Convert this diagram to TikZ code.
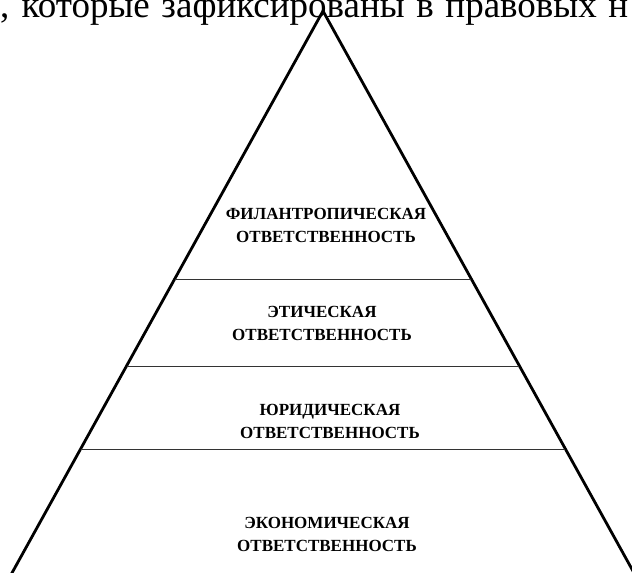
\documentclass[tikz,border=0pt]{standalone}
\usepackage{fontspec}
\setmainfont{Liberation Serif}
\usetikzlibrary{calc}
\tikzset{
  edge/.style={line width=2.8pt, line join=miter, black},
  tier/.style={line width=0.9pt, black!80},
  label/.style={align=center, inner sep=0pt, font=\bfseries\fontsize{17}{23}\selectfont},
  cut/.style={anchor=base west, inner sep=0pt, font=\fontsize{37}{37}\selectfont}
}
\begin{document}
\begin{tikzpicture}[x=1pt,y=-1pt]
\useasboundingbox (0,0) rectangle (632,573);
\clip (0,0) rectangle (632,573);
\fill[white] (0,0) rectangle (632,573);
\node[cut] (top) at (0,17) {\makebox[628pt][s]{, которые зафиксированы в правовых н}};
\coordinate (apex) at (323,11);
\coordinate (bl) at (-3,600);
\coordinate (br) at (649,600);
\draw[edge] (bl) -- (apex) -- (br);
\foreach \y/\n in {279/a,366/b,449/c}{
  \coordinate (l\n) at ($(apex)!{(\y-11)/589}!(bl)$);
  \coordinate (r\n) at ($(apex)!{(\y-11)/589}!(br)$);
  \draw[tier] (l\n) -- (r\n);
}
\node[label] (phil) at (326,225) {ФИЛАНТРОПИЧЕСКАЯ\\ОТВЕТСТВЕННОСТЬ};
\node[label] (eth) at (322,323) {ЭТИЧЕСКАЯ\\ОТВЕТСТВЕННОСТЬ};
\node[label] (leg) at (330,421) {ЮРИДИЧЕСКАЯ\\ОТВЕТСТВЕННОСТЬ};
\node[label] (eco) at (327,534) {ЭКОНОМИЧЕСКАЯ\\ОТВЕТСТВЕННОСТЬ};
\end{tikzpicture}
\end{document}
